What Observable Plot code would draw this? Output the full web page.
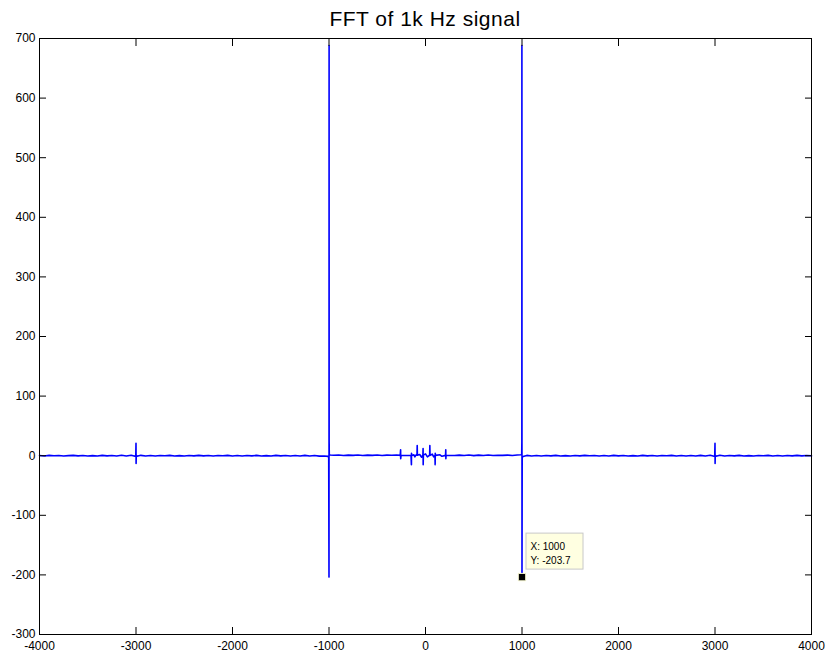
<!DOCTYPE html>
<html>
<head>
<meta charset="utf-8">
<script src="https://cdn.jsdelivr.net/npm/d3@7"></script>
<script src="https://cdn.jsdelivr.net/npm/@observablehq/plot@0.6"></script>
<style>
  body { margin: 0; background: #fff; font-family: "Liberation Sans", Arial, sans-serif; }
  #page { width: 827px; }
  #title { height: 30px; box-sizing: border-box; padding-top: 8px; padding-left: 39px; width: 811px;
           text-align: center; font-size: 21px; letter-spacing: 0.5px; line-height: 22px; color: #000; white-space: nowrap; }
</style>
</head>
<body>
<div id="page">
  <div id="title">FFT of 1k Hz signal</div>
  <div id="chart"></div>
</div>
<script>
const titleText = "FFT of 1k Hz signal";

// frequency (Hz) samples
const freq = [
  -4000,-3950,-3900,-3850,-3800,-3750,-3700,-3650,-3600,-3550,-3500,-3450,-3400,-3350,-3300,-3250,-3200,-3150,-3100,-3050,
  -3010,-3002,-3000,-2999,-2997,-2990,
  -2950,-2900,-2850,-2800,-2750,-2700,-2650,-2600,-2550,-2500,-2450,-2400,-2350,-2300,-2250,-2200,-2150,-2100,-2050,-2000,
  -1950,-1900,-1850,-1800,-1750,-1700,-1650,-1600,-1550,-1500,-1450,-1400,-1350,-1300,-1250,-1200,-1150,-1100,-1050,
  -1010,-1003,-1000,-999,-998.5,-997,-990,
  -950,-900,-850,-800,-750,-700,-650,-600,-550,-500,-450,-400,-350,-300,
  -262,-258,-257,-253,-200,-150,-146,-145,-141,-120,-110,-100,-88,-86,-84,-60,-40,-27,-25,-24,-22,0,20,43,45,47,70,85,98,100,101,104,150,170,208,210,211,213,250,
  300,350,400,450,500,550,600,650,700,750,800,850,900,950,
  990,997,998.5,999,1000,1002,1010,
  1050,1100,1150,1200,1250,1300,1350,1400,1450,1500,1550,1600,1650,1700,1750,1800,1850,1900,1950,2000,
  2050,2100,2150,2200,2250,2300,2350,2400,2450,2500,2550,2600,2650,2700,2750,2800,2850,2900,2950,
  2990,2997,3000,3001,3003,3010,
  3050,3100,3150,3200,3250,3300,3350,3400,3450,3500,3550,3600,3650,3700,3750,3800,3850,3900,3950,4000
];

// FFT value at each frequency
const amp = [
  0.3,-0.4,0.5,-0.2,0.4,-0.6,0.2,0.5,-0.3,0.4,-0.5,0.2,-0.4,0.6,-0.3,0.3,-0.5,0.7,-0.6,0.8,
  -0.9,1.0,21,-13,1.1,-0.8,
  0.6,-0.4,0.4,-0.6,0.3,-0.2,0.5,-0.4,0.2,-0.5,0.4,-0.3,0.5,-0.3,0.3,-0.5,0.4,-0.2,0.6,-0.4,
  0.3,-0.6,0.4,-0.3,0.5,-0.4,0.2,-0.5,0.5,-0.3,0.4,-0.5,0.3,-0.4,0.5,-0.6,0.3,-0.7,-0.5,
  -1.2,-3.0,-203.7,688,24,2.0,1.2,
  0.8,1.2,0.4,1.0,0.6,1.1,0.3,0.9,0.6,1.2,0.4,1.0,0.7,1.1,
  0.6,10,-5,0.8,0.3,0.6,-15,4,0.5,1.5,-2,1,0.8,17,1,2,-2.5,1,12,-15,1,3,-2,1,17,0.5,2.5,-2,0.5,-15,4,0.5,1.5,-1,0.5,10,-5,0.6,0.3,
  0.4,1.0,0.3,1.1,0.2,0.9,0.4,1.2,0.3,0.8,0.5,1.0,0.3,1.2,
  1.5,2.5,24,688,-203.7,-3.0,-1.2,
  0.5,-0.4,0.3,-0.5,0.4,-0.3,0.6,-0.4,0.2,-0.5,0.4,-0.3,0.5,-0.2,0.4,-0.6,0.3,-0.4,0.5,-0.3,
  0.4,-0.5,0.2,-0.4,0.6,-0.3,0.3,-0.5,0.4,-0.2,0.5,-0.4,0.3,-0.6,0.3,-0.4,0.6,-0.5,0.7,
  -0.8,-1.0,21,-13,1.0,-0.9,
  0.8,-0.5,0.4,-0.3,0.6,-0.4,0.2,-0.5,0.3,-0.2,0.5,-0.4,0.3,-0.6,0.4,-0.3,0.5,-0.3,0.4,-0.2
];

const xTicks = [-4000,-3000,-2000,-1000,0,1000,2000,3000,4000];
const yTicks = [-300,-200,-100,0,100,200,300,400,500,600,700];
const xDomain = [-4000, 4000];
const yDomain = [-300, 700];

// data tip
const tipX = 1000;
const tipY = -203.7;
const tipLines = ["X: " + tipX, "Y: " + tipY];

document.getElementById("title").textContent = titleText;

const data = freq.map((f, i) => ({f, a: amp[i]}));
const fmt = d => String(d);

const plot = Plot.plot({
  width: 827,
  height: 633,
  marginLeft: 39,
  marginRight: 16,
  marginTop: 8,
  marginBottom: 29,
  style: {fontFamily: "'Liberation Sans', Arial, sans-serif", fontSize: "12px", color: "#000", background: "#fff", overflow: "visible"},
  x: {domain: xDomain},
  y: {domain: yDomain},
  marks: [
    Plot.line(data, {x: "f", y: "a", stroke: "#0000ff", strokeWidth: 1.6}),
    Plot.axisX({anchor: "bottom", ticks: xTicks, tickSize: -7, tickPadding: 14, tickFormat: fmt, label: null, stroke: "#000", fill: "#000"}),
    Plot.axisX({anchor: "top", ticks: xTicks, tickSize: -7, tickFormat: () => "", label: null, stroke: "#000"}),
    Plot.axisY({anchor: "left", ticks: yTicks, tickSize: -7, tickPadding: 11, tickFormat: fmt, label: null, stroke: "#000", fill: "#000"}),
    Plot.axisY({anchor: "right", ticks: yTicks, tickSize: -7, tickFormat: () => "", label: null, stroke: "#000"}),
    Plot.frame({stroke: "#000", strokeWidth: 1}),
    Plot.dot([{f: tipX, a: tipY}], {x: "f", y: "a", symbol: "square", r: 4.2, fill: "#000", stroke: "#ffffd8", strokeWidth: 1})
  ]
});

document.getElementById("chart").appendChild(plot);

// data tip box positioned with the plot's scales
const sx = plot.scale("x"), sy = plot.scale("y");
const px = sx.apply(tipX), py = sy.apply(tipY);
const g = d3.select(plot).append("g")
  .attr("font-family", "'Liberation Sans', Arial, sans-serif")
  .attr("font-size", 10)
  .attr("text-anchor", "start");
g.append("rect")
  .attr("x", px + 4.5).attr("y", py - 43.5)
  .attr("width", 57).attr("height", 36)
  .attr("fill", "#ffffe1").attr("stroke", "#c8c8c8");
g.selectAll("text.tip").data(tipLines).join("text")
  .attr("class", "tip")
  .attr("x", px + 9).attr("y", (d, i) => py - 27 + i * 14)
  .attr("fill", "#000")
  .text(d => d);
</script>
</body>
</html>
